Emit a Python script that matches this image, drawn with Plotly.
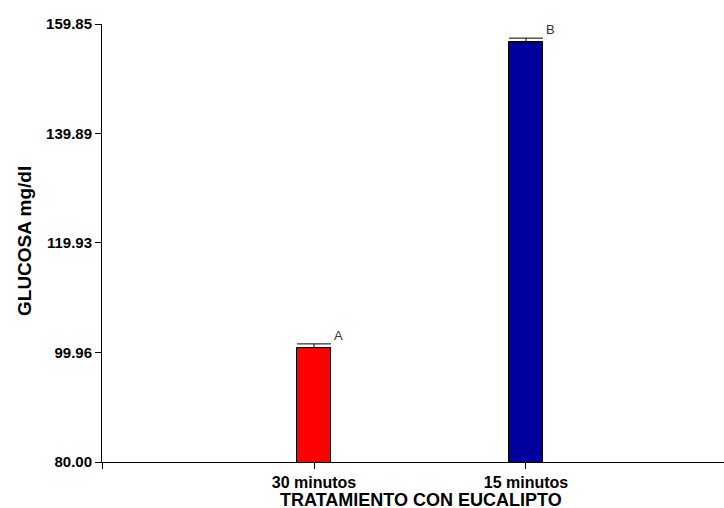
import plotly.graph_objects as go

# Glucose levels by eucalyptus treatment time
categories = ["30 minutos", "15 minutos"]
glucose = [100.86, 156.6]
errors = [0.67, 0.67]
letters = ["A", "B"]
bar_colors = ["#ff0000", "#00009c"]
y_ticks = [80.00, 99.96, 119.93, 139.89, 159.85]
x_title = "TRATAMIENTO CON EUCALIPTO"
y_title = "GLUCOSA mg/dl"

x_pos = list(range(len(categories)))

fig = go.Figure()
fig.add_trace(go.Bar(
    x=x_pos,
    y=glucose,
    width=0.156,
    marker=dict(color=bar_colors, line=dict(color="black", width=1)),
    error_y=dict(type="data", array=errors, arrayminus=[0] * len(errors),
                 symmetric=False, visible=True,
                 color="black", thickness=1, width=17),
    showlegend=False,
))

# Significance letters next to each bar
for xi, v, e, t in zip(x_pos, glucose, errors, letters):
    fig.add_annotation(x=xi + 0.078, y=v + e, text=t, showarrow=False,
                       xanchor="left", yanchor="bottom", xshift=1, yshift=-1,
                       font=dict(family="Liberation Sans", size=13, color="#333333"))

bold = lambda s: f"<b>{s}</b>"

# Axis titles placed as paper annotations so they can sit outside the margins
fig.add_annotation(xref="paper", yref="paper", x=0.5, y=0,
                   xanchor="center", yanchor="top", xshift=8, yshift=-26,
                   text=bold(x_title), showarrow=False,
                   font=dict(family="Liberation Sans", size=18, color="black"))
fig.add_annotation(xref="paper", yref="paper", x=0, y=0.5,
                   xanchor="center", yanchor="middle", xshift=-78, yshift=2,
                   textangle=-90, text=bold(y_title), showarrow=False,
                   font=dict(family="Liberation Sans", size=19, color="black"))

fig.update_layout(
    width=724, height=508,
    margin=dict(l=102, r=0, t=24, b=46),
    plot_bgcolor="white", paper_bgcolor="white",
    bargap=0,
    font=dict(family="Liberation Sans", color="black"),
    xaxis=dict(
        range=[-1.0, 1.934],
        tickvals=[-1] + x_pos, ticktext=[""] + [bold(c) for c in categories],
        ticks="outside", ticklen=6, tickcolor="black",
        showline=True, linecolor="black", linewidth=1,
        showgrid=False, zeroline=False, automargin=False,
        tickfont=dict(family="Liberation Sans", size=16, color="black"),
    ),
    yaxis=dict(
        range=[80, 159.85],
        tickvals=y_ticks, ticktext=[bold(f"{v:.2f}") for v in y_ticks],
        ticks="outside", ticklen=6, tickcolor="black",
        showline=True, linecolor="black", linewidth=1,
        showgrid=False, zeroline=False, automargin=False,
        tickfont=dict(family="Liberation Sans", size=15, color="black"),
    ),
)

fig.write_html("out.html")
